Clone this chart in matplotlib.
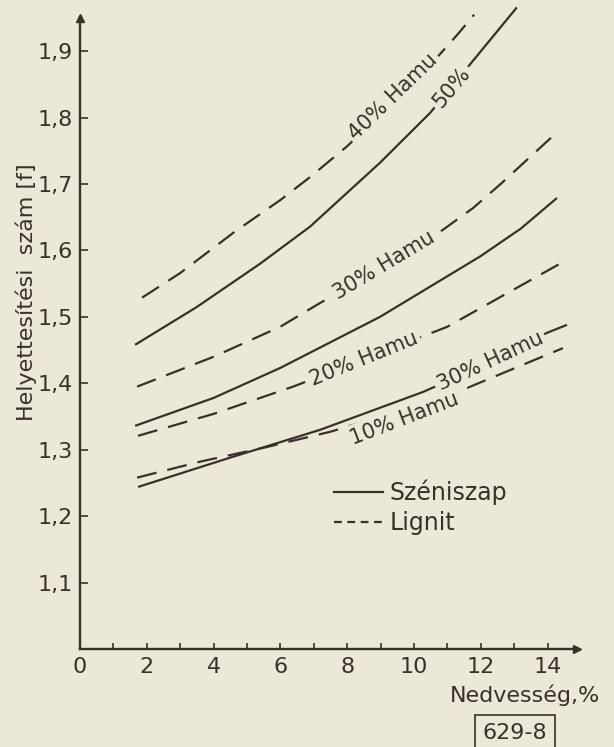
import matplotlib
matplotlib.use("Agg")
import matplotlib.pyplot as plt
from matplotlib.lines import Line2D

plt.rcParams['font.family'] = ['DejaVu Sans']

# ==========
# DATA
# ==========
# moisture % on x, substitution number on y
hamu40_lignit_x = [1.86, 3.0, 4.6, 6.0, 6.9, 8.0, 9.4, 10.5, 11.3, 11.8]
hamu40_lignit_y = [1.529, 1.566, 1.627, 1.676, 1.711, 1.757, 1.825, 1.880, 1.925, 1.955]

hamu50_szen_x = [1.65, 3.5, 5.39, 6.89, 8.98, 10.48, 11.74, 13.08]
hamu50_szen_y = [1.458, 1.515, 1.580, 1.636, 1.732, 1.807, 1.884, 1.966]

hamu30_lignit_x = [1.71, 4.0, 5.99, 7.19, 9.1, 10.78, 11.77, 12.57, 14.13]
hamu30_lignit_y = [1.395, 1.44, 1.485, 1.521, 1.575, 1.628, 1.664, 1.699, 1.771]

hamu20_szen_x = [1.65, 4.0, 5.99, 8.98, 11.98, 13.2, 14.28]
hamu20_szen_y = [1.336, 1.378, 1.423, 1.50, 1.591, 1.633, 1.679]

hamu20_lignit_x = [1.74, 4.0, 6.38, 8.5, 10.99, 14.58]
hamu20_lignit_y = [1.321, 1.354, 1.395, 1.436, 1.485, 1.586]

hamu10_szen_x = [1.74, 4.49, 7.19, 10.27, 12.3, 13.98, 14.58]
hamu10_szen_y = [1.244, 1.288, 1.330, 1.387, 1.432, 1.476, 1.488]

hamu10_lignit_x = [1.71, 3.59, 5.5, 7.49, 9.7, 11.59, 14.46]
hamu10_lignit_y = [1.258, 1.282, 1.303, 1.327, 1.36, 1.393, 1.453]

x_ticks = [0, 2, 4, 6, 8, 10, 12, 14]
x_minor = [1, 3, 5, 7, 9, 11, 13]
y_ticks = [1.1, 1.2, 1.3, 1.4, 1.5, 1.6, 1.7, 1.8, 1.9]
y_tick_labels = ["1,1", "1,2", "1,3", "1,4", "1,5", "1,6", "1,7", "1,8", "1,9"]

BG = "#ebe8da"
INK = "#3b2f29"
DASH = (0, (9, 5))

# ==========
# FIGURE
# ==========
fig = plt.figure(figsize=(6.14, 7.47), dpi=100)
fig.patch.set_facecolor(BG)
ax = fig.add_axes([80 / 614, 1 - 649 / 747, 497 / 614, 631 / 747])
ax.set_facecolor(BG)
ax.set_xlim(0, 14.88)
ax.set_ylim(1.0, 1.95)

solid = dict(color=INK, lw=1.6, clip_on=False, solid_capstyle="butt")
dashed = dict(color=INK, lw=1.6, ls=DASH, clip_on=False, dash_capstyle="butt")

ax.plot(hamu40_lignit_x, hamu40_lignit_y, **dashed)
ax.plot(hamu50_szen_x, hamu50_szen_y, **solid)
ax.plot(hamu30_lignit_x, hamu30_lignit_y, **dashed)
ax.plot(hamu20_szen_x, hamu20_szen_y, **solid)
ax.plot(hamu20_lignit_x, hamu20_lignit_y, **dashed)
ax.plot(hamu10_szen_x, hamu10_szen_y, **solid)
ax.plot(hamu10_lignit_x, hamu10_lignit_y, **dashed)

# curve labels sit on the lines, the box hides the line underneath
lab = dict(color=INK, fontsize=15, ha="center", va="center", rotation_mode="anchor",
           bbox=dict(boxstyle="square,pad=0.15", fc=BG, ec="none"))
ax.text(9.37, 1.832, "40% Hamu", rotation=44, **lab)
ax.text(11.14, 1.845, "50%", rotation=50, **lab)
ax.text(9.1, 1.577, "30% Hamu", rotation=31, **lab)
ax.text(8.5, 1.436, "20% Hamu", rotation=22, **lab)
ax.text(12.28, 1.433, "30% Hamu", rotation=25, **lab)
ax.text(9.7, 1.347, "10% Hamu", rotation=21, **lab)

# axes look
for s in ["top", "right"]:
    ax.spines[s].set_visible(False)
for s in ["left", "bottom"]:
    ax.spines[s].set_color(INK)
    ax.spines[s].set_linewidth(1.7)
ax.plot(1, 0, ">", transform=ax.transAxes, clip_on=False, ms=6, color=INK)
ax.plot(0, 1, "^", transform=ax.transAxes, clip_on=False, ms=6, color=INK)

ax.set_xticks(x_ticks)
ax.set_xticks(x_minor, minor=True)
ax.set_yticks(y_ticks)
ax.set_yticklabels(y_tick_labels)
ax.tick_params(axis="x", which="both", direction="in", length=4, width=1.2,
               colors=INK, labelsize=16, pad=6)
ax.tick_params(axis="y", direction="in", length=6, width=1.2,
               colors=INK, labelsize=16, pad=5)

handles = [Line2D([], [], color=INK, lw=1.6),
           Line2D([], [], color=INK, lw=1.6, ls=(0, (3.5, 2.5)))]
ax.legend(handles, ["Széniszap", "Lignit"], loc="upper left",
          bbox_to_anchor=(322 / 614, 1 - 468 / 747), bbox_transform=fig.transFigure,
          frameon=False, fontsize=17, handlelength=2.1, handletextpad=0.25,
          labelspacing=0.25, borderpad=0, labelcolor=INK)

fig.text(26 / 614, 1 - 292 / 747, "Helyettesítési  szám [f]", rotation=90,
         ha="center", va="center", fontsize=16, color=INK)
fig.text(600 / 614, 1 - 695 / 747, "Nedvesség,%", ha="right", va="center",
         fontsize=16, color=INK)
fig.text(515 / 614, 1 - 733 / 747, "629-8", ha="center", va="center", fontsize=16,
         color=INK, bbox=dict(boxstyle="square,pad=0.35", fc="none", ec=INK, lw=1.2))

fig.savefig("out.png", dpi=100, facecolor=BG)
